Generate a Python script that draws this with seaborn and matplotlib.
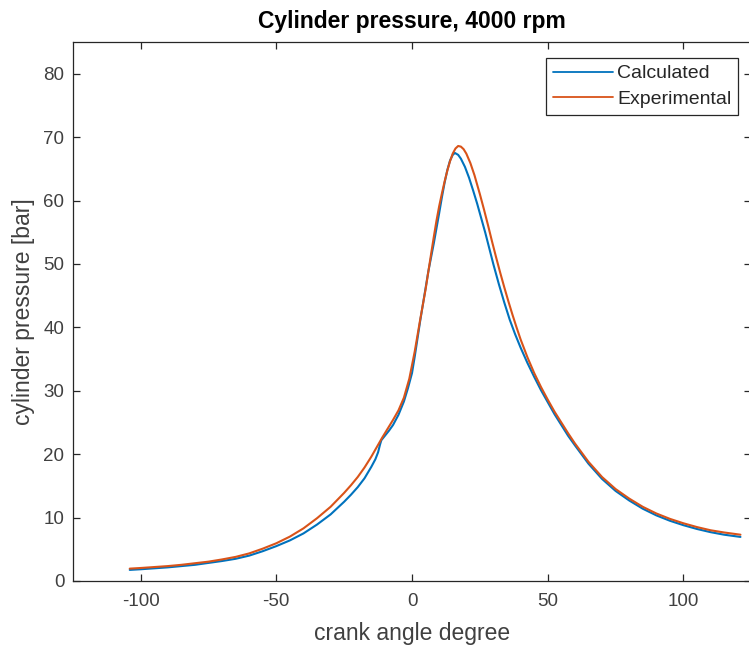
import matplotlib
matplotlib.use("Agg")
import matplotlib.pyplot as plt
import seaborn as sns
import pandas as pd

# ---- data ----
calc_angle = [-104, -100, -95, -90, -85, -80, -75, -70, -65, -60, -55, -50, -45, -40,
              -35, -30, -25, -22.5, -20, -17.5, -15, -13.5, -12.5, -11.8, -11.3, -10,
              -8.5, -7, -5, -3, -1.5, 0, 1, 2, 3, 4, 5, 6, 7, 8, 9, 10, 11, 12, 13,
              14, 15, 15.8, 17, 18, 19.5, 21, 22.5, 24, 25.5, 27, 28.5, 30, 32, 34,
              36, 38, 40, 42.5, 45, 47.5, 50, 52.5, 55, 57.5, 60, 65, 70, 75, 80,
              85, 90, 95, 100, 105, 110, 115, 121]
calc_pressure = [1.75, 1.85, 2.0, 2.15, 2.35, 2.55, 2.85, 3.15, 3.5, 4.0, 4.7, 5.5, 6.4, 7.5,
                 8.9, 10.5, 12.5, 13.6, 14.8, 16.2, 18.0, 19.2, 20.3, 21.5, 22.2, 22.9,
                 23.7, 24.6, 26.2, 28.3, 30.4, 32.8, 35.4, 38.2, 41.0, 43.6, 46.2, 48.8, 51.0, 53.2, 55.6, 58.0, 60.5, 62.8, 64.8,
                 66.3, 67.2, 67.5, 67.2, 66.6, 65.3, 63.6, 61.6, 59.5, 57.2, 54.9, 52.4, 49.9, 46.8, 43.9,
                 41.2, 38.9, 36.8, 34.4, 32.2, 30.1, 28.2, 26.3, 24.6, 22.9, 21.4, 18.5, 16.1, 14.2, 12.7,
                 11.4, 10.35, 9.5, 8.8, 8.2, 7.7, 7.3, 6.95]

exp_angle = [-104, -100, -95, -90, -85, -80, -75, -70, -65, -60, -55, -50, -45, -40,
             -35, -30, -25, -22.5, -20, -17.5, -15, -13, -11, -9, -7, -5, -3, -1,
             1, 3, 5, 7, 8, 9, 10, 11, 12, 13, 14, 15, 16, 17, 18, 19, 20, 21.5,
             23, 25, 26.5, 28, 29.5, 31, 32.5, 34, 35.5, 37, 38.5, 40, 42.5, 45,
             47.5, 50, 52.5, 55, 57.5, 60, 65, 70, 75, 80, 85, 90, 95, 100, 105,
             110, 115, 121]
exp_pressure = [1.95, 2.05, 2.2, 2.35, 2.55, 2.8, 3.05, 3.4, 3.8, 4.35, 5.1, 5.95, 7.0, 8.3,
                9.9, 11.7, 13.9, 15.1, 16.4, 17.9, 19.6, 21.1, 22.6, 24.0, 25.4, 26.9, 28.9, 31.9,
                36.2, 41.2, 46.0, 51.5, 54.2, 56.8, 59.1, 61.1, 63.0, 64.7, 66.2, 67.4, 68.2, 68.6, 68.5, 68.1, 67.4, 65.9,
                64.0, 61.0, 58.6, 56.1, 53.5, 51.0, 48.6, 46.3, 44.1, 42.0, 40.0, 38.1, 35.3, 32.8,
                30.6, 28.6, 26.7, 25.0, 23.3, 21.7, 18.8, 16.4, 14.5, 13.0, 11.7, 10.65, 9.8, 9.1, 8.5,
                8.0, 7.65, 7.3]

series_names = ["Calculated", "Experimental"]
series_colors = ["#0072BD", "#D95319"]
x_ticks = [-100, -50, 0, 50, 100]
y_ticks = [0, 10, 20, 30, 40, 50, 60, 70, 80]

df = pd.concat([
    pd.DataFrame({"angle": calc_angle, "pressure": calc_pressure, "series": series_names[0]}),
    pd.DataFrame({"angle": exp_angle, "pressure": exp_pressure, "series": series_names[1]}),
], ignore_index=True)

sns.set_theme(style="ticks")
plt.rcParams["font.family"] = ["Liberation Sans", "DejaVu Sans"]
plt.rcParams["axes.unicode_minus"] = False

fig = plt.figure(figsize=(7.49, 6.52), dpi=100)
ax = fig.add_axes([0.0971, 0.1089, 0.906, 0.8267])

sns.lineplot(data=df, x="angle", y="pressure", hue="series",
             palette=dict(zip(series_names, series_colors)),
             sort=False, estimator=None, linewidth=1.5, ax=ax)

ax.set_xlim(-125, 125)
ax.set_ylim(0, 85)
ax.set_xticks(x_ticks)
ax.set_yticks(y_ticks)

axc = "#262626"
for s in ax.spines.values():
    s.set_visible(True)
    s.set_color(axc)
    s.set_linewidth(0.9)
ax.tick_params(direction="in", length=5, width=0.9, colors=axc,
               labelcolor="#404040", labelsize=13.5,
               top=True, right=True)
ax.tick_params(axis="x", pad=9)
ax.tick_params(axis="y", pad=6)

ax.set_xlabel("crank angle degree", fontsize=16.5, color="#404040", labelpad=8)
ax.set_ylabel("cylinder pressure [bar]", fontsize=16.5, color="#404040", labelpad=6)
ax.set_title("Cylinder pressure, 4000 rpm", fontsize=16.5, fontweight="bold",
             color="#000000", pad=10)

leg = ax.legend(loc="upper right", bbox_to_anchor=(0.9804, 0.9703), borderaxespad=0,
                fontsize=14, frameon=True, fancybox=False,
                handlelength=3.1, handletextpad=0.2, borderpad=0.35,
                labelspacing=0.4, title=None)
leg.get_frame().set_edgecolor(axc)
leg.get_frame().set_linewidth(0.9)
leg.get_frame().set_alpha(1)
for t in leg.get_texts():
    t.set_color("#262626")
for h in leg.get_lines():
    h.set_linewidth(1.3)

fig.savefig("out.png", dpi=100)
